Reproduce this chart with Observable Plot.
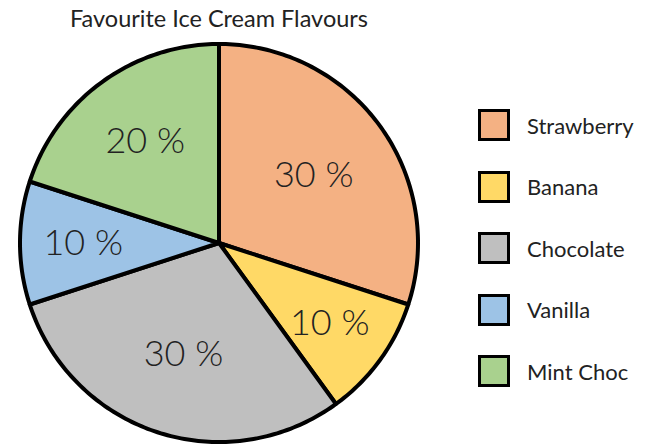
<!DOCTYPE html>
<html><head><meta charset="utf-8">
<script src="https://cdn.jsdelivr.net/npm/d3@7"></script>
<script src="https://cdn.jsdelivr.net/npm/@observablehq/plot@0.6"></script>
<style>
body{margin:0;background:#fff;}
#wrap{position:relative;width:646px;height:447px;overflow:hidden;font-family:Lato, "Open Sans", sans-serif;}
#title{position:absolute;left:0;width:438px;top:4px;text-align:center;font-size:23.5px;color:#222;}
#chart{position:absolute;left:0;top:0;}
#legend{position:absolute;left:478px;top:109px;}
.item{display:flex;align-items:center;height:32px;margin-bottom:29.5px;}
.sw{width:26px;height:26px;border:3px solid #000;box-sizing:content-box;}
.lab{margin-left:17px;font-size:22px;color:#222;}
</style></head>
<body>
<div id="wrap">
  <div id="chart"></div>
  <div id="title">Favourite Ice Cream Flavours</div>
  <div id="legend"></div>
</div>
<script>
const title = "Favourite Ice Cream Flavours";
const flavours = ["Strawberry", "Banana", "Chocolate", "Vanilla", "Mint Choc"];
const shares = [30, 10, 30, 10, 20];
const colours = ["#F4B183", "#FFD966", "#BFBFBF", "#9DC3E6", "#A9D18E"];

const arcs = d3.pie().sort(null).value(d => d)(shares);

// wedge outlines derived from the pie angles (0 = 12 o'clock, clockwise)
const wedgePts = [];
arcs.forEach((a, i) => {
  const n = Math.max(2, Math.ceil((a.endAngle - a.startAngle) / (Math.PI / 180)));
  for (let k = 0; k <= n; k++) {
    const t = a.startAngle + (a.endAngle - a.startAngle) * k / n;
    wedgePts.push({flavour: flavours[i], x1: Math.sin(t), y1: Math.cos(t), x2: 0, y2: 0});
  }
});

const labels = arcs.map((a, i) => {
  const mid = (a.startAngle + a.endAngle) / 2;
  const r = 0.735 - 0.5 * (shares[i] / 100);
  return {x: r * Math.sin(mid), y: r * Math.cos(mid), text: shares[i] + " %"};
});

const chart = Plot.plot({
  width: 440,
  height: 447,
  marginLeft: 20,
  marginRight: 22,
  marginTop: 44,
  marginBottom: 5,
  x: {domain: [-1, 1], axis: null},
  y: {domain: [-1, 1], axis: null},
  color: {domain: flavours, range: colours},
  style: {fontFamily: "Lato, 'Open Sans', sans-serif", background: "transparent"},
  marks: [
    Plot.area(wedgePts, {x1: "x1", y1: "y1", x2: "x2", y2: "y2", z: "flavour", fill: "flavour",
      stroke: "#000", strokeWidth: 4, strokeLinejoin: "round"}),
    Plot.text(labels, {x: "x", y: "y", text: "text", fontSize: 36, fontWeight: 300, fill: "#222"})
  ]
});
document.getElementById("chart").appendChild(chart);
document.getElementById("title").textContent = title;

const legend = document.getElementById("legend");
flavours.forEach((f, i) => {
  const item = document.createElement("div");
  item.className = "item";
  const sw = document.createElement("div");
  sw.className = "sw";
  sw.style.background = colours[i];
  const lab = document.createElement("div");
  lab.className = "lab";
  lab.textContent = f;
  item.appendChild(sw);
  item.appendChild(lab);
  legend.appendChild(item);
});
</script>
</body></html>
